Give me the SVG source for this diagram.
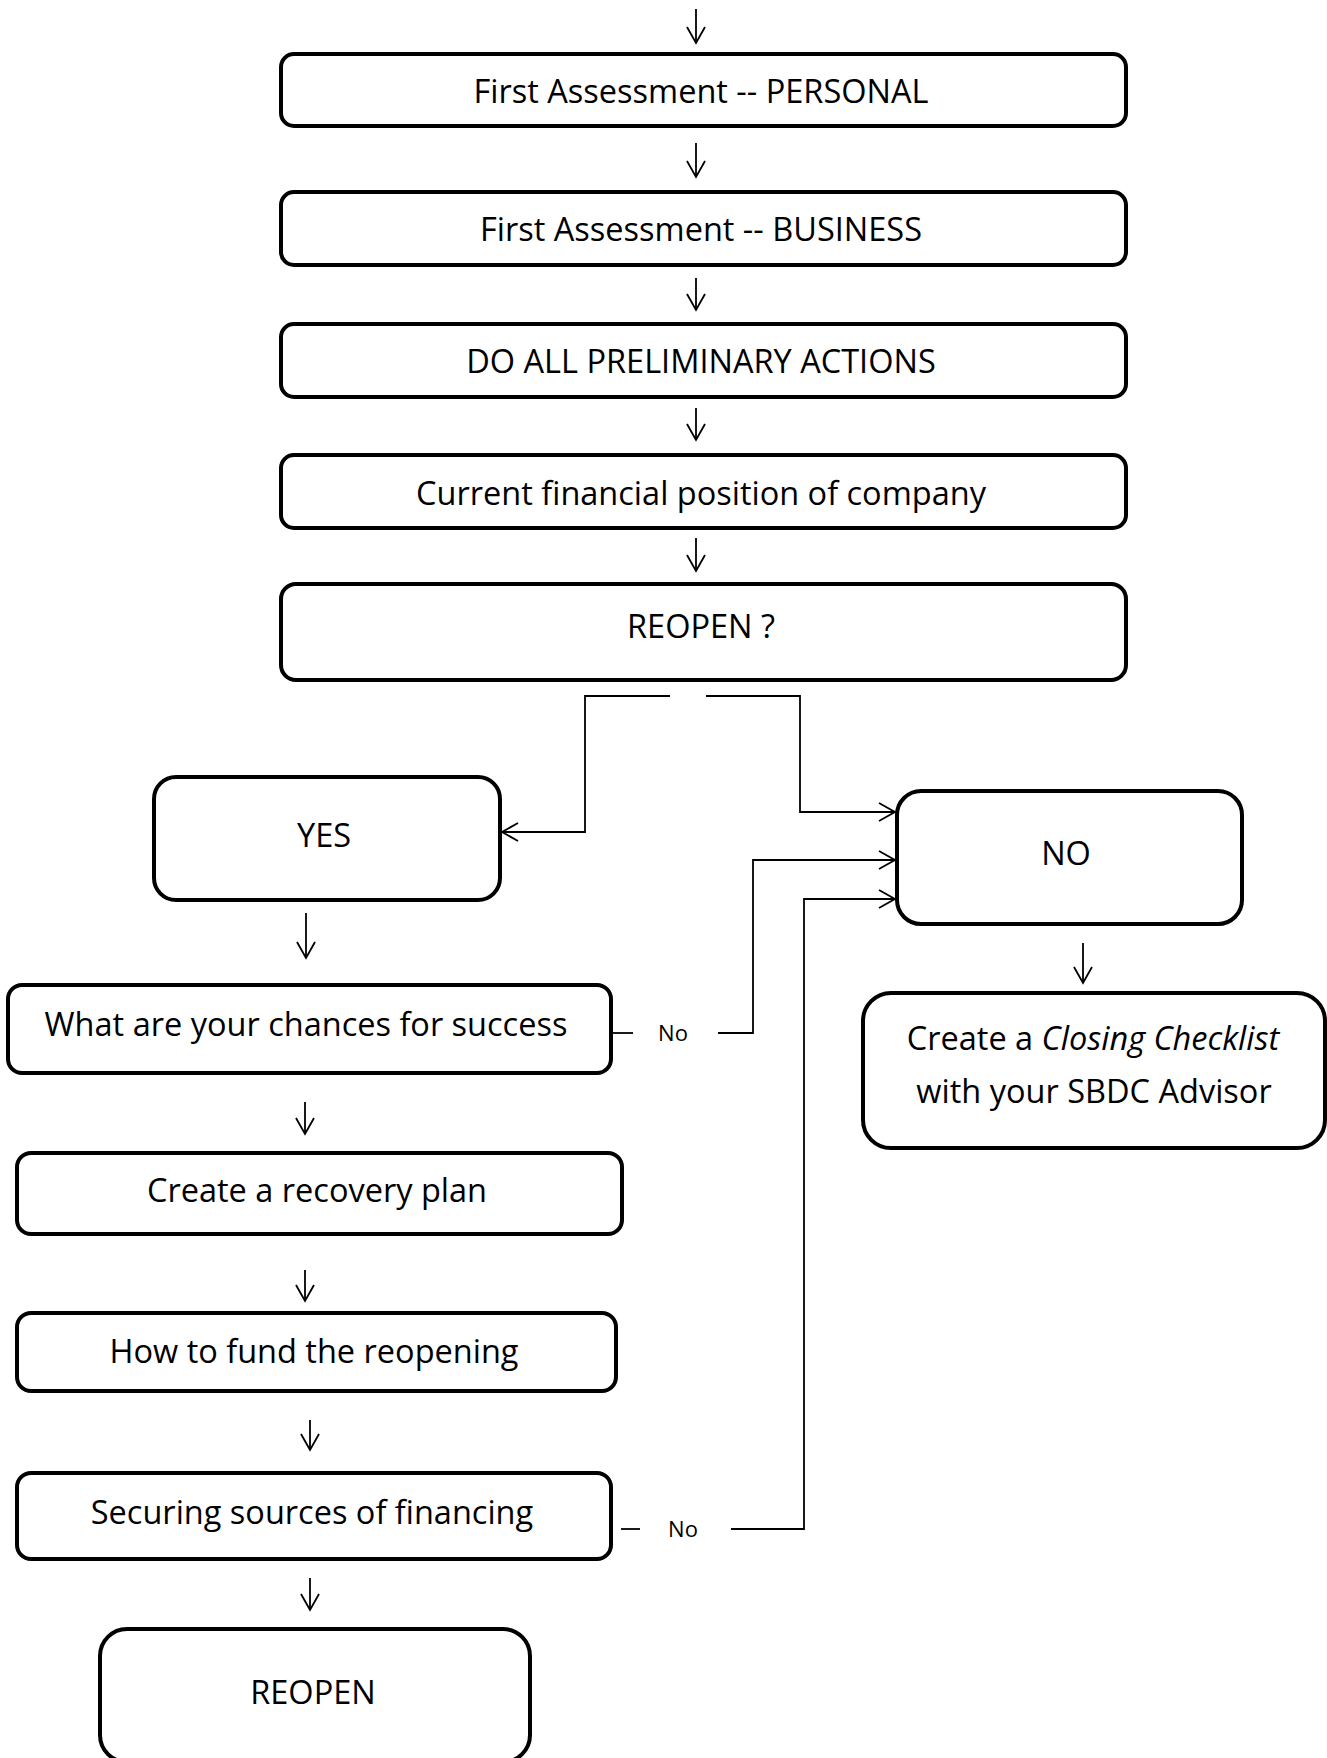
<svg xmlns="http://www.w3.org/2000/svg" width="1327" height="1758" viewBox="0 0 1327 1758">
<style>
.box{fill:#fff;stroke:#000;stroke-width:4}
.t{font-family:"Open Sans","Liberation Sans",sans-serif;font-size:32.5px;fill:#000;text-anchor:middle}
.lbl{font-family:"Open Sans","Liberation Sans",sans-serif;font-size:22px;fill:#000;text-anchor:middle}
.c{fill:none;stroke:#000;stroke-width:1.8}
</style>
<defs>
<marker id="ah" markerUnits="userSpaceOnUse" markerWidth="24" markerHeight="24" viewBox="-20 -12 24 24" refX="0" refY="0" orient="auto">
<path d="M-16,-9 L0,0 L-16,9" fill="none" stroke="#000" stroke-width="1.8"/>
</marker>
</defs>
<g id="connectors">
<path class="c" d="M696,9 V43" marker-end="url(#ah)"/>
<path class="c" d="M696,143 V177" marker-end="url(#ah)"/>
<path class="c" d="M696,278 V310" marker-end="url(#ah)"/>
<path class="c" d="M696,408 V440" marker-end="url(#ah)"/>
<path class="c" d="M696,538 V571" marker-end="url(#ah)"/>
<path class="c" d="M670,696 H585 V832 H502" marker-end="url(#ah)"/>
<path class="c" d="M706,696 H800 V812 H895" marker-end="url(#ah)"/>
<path class="c" d="M612,1033 H633"/>
<path class="c" d="M718,1033 H753 V860 H895" marker-end="url(#ah)"/>
<path class="c" d="M621,1529 H640"/>
<path class="c" d="M731,1529 H804 V899 H895" marker-end="url(#ah)"/>
<path class="c" d="M306,913 V958" marker-end="url(#ah)"/>
<path class="c" d="M305,1102 V1134" marker-end="url(#ah)"/>
<path class="c" d="M305,1270 V1301" marker-end="url(#ah)"/>
<path class="c" d="M310,1420 V1450" marker-end="url(#ah)"/>
<path class="c" d="M310,1578 V1610" marker-end="url(#ah)"/>
<path class="c" d="M1083,943 V983" marker-end="url(#ah)"/>
<text class="lbl" x="673" y="1041">No</text>
<text class="lbl" x="683" y="1537">No</text>
</g>
<g id="n1"><rect class="box" x="281" y="54" width="845" height="72" rx="13"/><text class="t" x="701" y="103">First Assessment -- PERSONAL</text></g>
<g id="n2"><rect class="box" x="281" y="192" width="845" height="73" rx="13"/><text class="t" x="701" y="241">First Assessment -- BUSINESS</text></g>
<g id="n3"><rect class="box" x="281" y="324" width="845" height="73" rx="13"/><text class="t" x="701" y="373">DO ALL PRELIMINARY ACTIONS</text></g>
<g id="n4"><rect class="box" x="281" y="455" width="845" height="73" rx="13"/><text class="t" x="701" y="505">Current financial position of company</text></g>
<g id="n5"><rect class="box" x="281" y="584" width="845" height="96" rx="15"/><text class="t" x="701" y="638">REOPEN ?</text></g>
<g id="yes"><rect class="box" x="154" y="777" width="346" height="123" rx="22"/><text class="t" x="324" y="847">YES</text></g>
<g id="no"><rect class="box" x="897" y="791" width="345" height="133" rx="24"/><text class="t" x="1066" y="865">NO</text></g>
<g id="closing"><rect class="box" x="863" y="993" width="462" height="155" rx="28"/><text class="t" x="1093" y="1050">Create a <tspan font-style="italic">Closing Checklist</tspan></text><text class="t" x="1094" y="1103">with your SBDC Advisor</text></g>
<g id="chances"><rect class="box" x="8" y="985" width="603" height="88" rx="14"/><text class="t" x="306" y="1036">What are your chances for success</text></g>
<g id="plan"><rect class="box" x="17" y="1153" width="605" height="81" rx="14"/><text class="t" x="317" y="1202">Create a recovery plan</text></g>
<g id="fund"><rect class="box" x="17" y="1313" width="599" height="78" rx="14"/><text class="t" x="314" y="1363">How to fund the reopening</text></g>
<g id="securing"><rect class="box" x="17" y="1473" width="594" height="86" rx="14"/><text class="t" x="312" y="1524">Securing sources of financing</text></g>
<g id="reopen"><rect class="box" x="100" y="1629" width="430" height="133" rx="27"/><text class="t" x="313" y="1704">REOPEN</text></g>
</svg>
